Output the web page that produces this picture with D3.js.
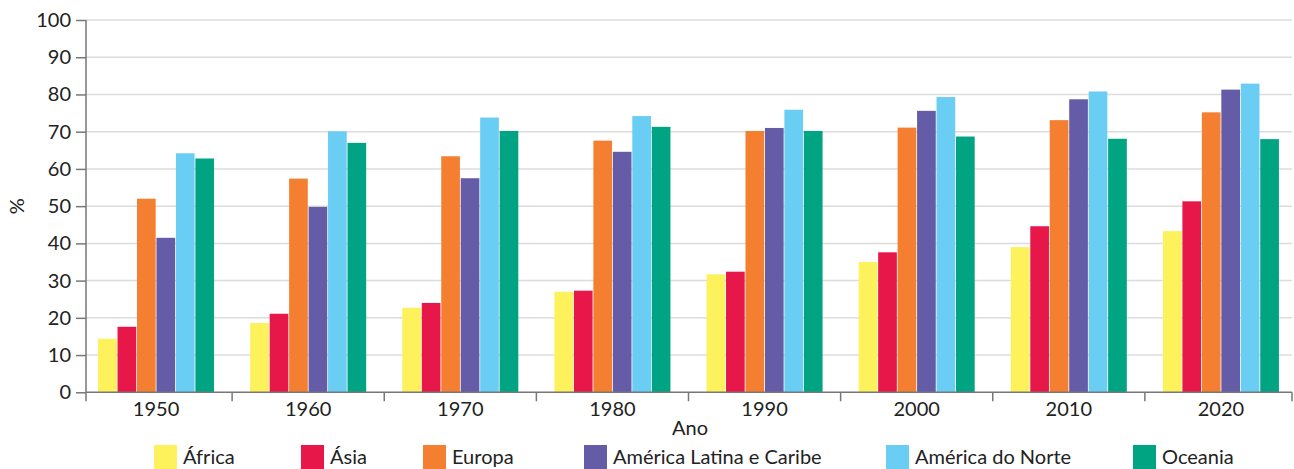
<!DOCTYPE html>
<html>
<head>
<meta charset="utf-8">
<script src="https://cdn.jsdelivr.net/npm/d3@7"></script>
<style>
  body { margin: 0; background: #fff; }
  svg text { font-family: Lato, "Open Sans", sans-serif; fill: #222; }
</style>
</head>
<body>
<div id="chart"></div>
<script>
// dados
var years = ["1950", "1960", "1970", "1980", "1990", "2000", "2010", "2020"];
var regions = ["África", "Ásia", "Europa", "América Latina e Caribe", "América do Norte", "Oceania"];
var colors = ["#fdf15c", "#e8174a", "#f47f30", "#655ca8", "#69cdf4", "#00a482"];
var africa   = [14.4, 18.6, 22.7, 27.0, 31.7, 35.0, 39.0, 43.3];
var asia     = [17.6, 21.1, 24.0, 27.3, 32.4, 37.6, 44.6, 51.3];
var europa   = [52.0, 57.4, 63.4, 67.6, 70.2, 71.1, 73.1, 75.2];
var latina   = [41.5, 49.8, 57.5, 64.6, 71.0, 75.6, 78.7, 81.3];
var norte    = [64.2, 70.1, 73.8, 74.2, 75.9, 79.3, 80.8, 82.9];
var oceania  = [62.8, 67.0, 70.2, 71.3, 70.2, 68.7, 68.1, 68.0];
var yTicks = [0, 10, 20, 30, 40, 50, 60, 70, 80, 90, 100];

var seriesValues = [africa, asia, europa, latina, norte, oceania];

var width = 1294, height = 469;
var axisLeftX = 86, axisRightX = 1292;

var svg = d3.select("#chart").append("svg")
    .attr("width", width)
    .attr("height", height);

var x0 = d3.scaleBand().domain(years).range([80, 1297]);
var x1 = d3.scaleBand().domain(regions).range([0, 116]).paddingInner(0.04);
var y = d3.scaleLinear().domain([0, 100]).range([392.3, 20]);

// grade
svg.append("g")
    .selectAll("line")
    .data(yTicks.filter(function(d){ return d > 0; }))
    .enter().append("line")
    .attr("x1", axisLeftX).attr("x2", axisRightX)
    .attr("y1", function(d){ return y(d); })
    .attr("y2", function(d){ return y(d); })
    .attr("stroke", "#dcdcdc")
    .attr("stroke-width", 1.5);

// barras
var groups = svg.append("g")
    .selectAll("g")
    .data(years)
    .enter().append("g")
    .attr("transform", function(d){
        return "translate(" + (x0(d) + (x0.bandwidth() - 116) / 2) + ",0)";
    });

groups.selectAll("rect")
    .data(function(d, i){
        return regions.map(function(r, j){ return {region: r, value: seriesValues[j][i], color: colors[j]}; });
    })
    .enter().append("rect")
    .attr("x", function(d){ return x1(d.region); })
    .attr("width", x1.bandwidth())
    .attr("y", function(d){ return y(d.value); })
    .attr("height", function(d){ return y(0) - y(d.value); })
    .attr("fill", function(d){ return d.color; });

// eixo y
var yAxis = d3.axisLeft(y).tickValues(yTicks).tickSize(10).tickPadding(5);
var gy = svg.append("g")
    .attr("transform", "translate(" + axisLeftX + ",0)")
    .call(yAxis);
gy.select(".domain").remove();
gy.selectAll(".tick line").attr("stroke", "#777").attr("stroke-width", 1.5);
gy.selectAll(".tick text").style("font-size", "20px").style("fill", "#222");
svg.append("line")
    .attr("x1", axisLeftX).attr("x2", axisLeftX)
    .attr("y1", y(100)).attr("y2", y(0) + 9)
    .attr("stroke", "#777").attr("stroke-width", 1.5);

// eixo x
var xAxis = d3.axisBottom(x0).tickSize(0).tickPadding(10);
var gx = svg.append("g")
    .attr("transform", "translate(0," + y(0) + ")")
    .call(xAxis);
gx.select(".domain").remove();
gx.selectAll(".tick text").style("font-size", "20px").style("fill", "#222");

svg.append("line")
    .attr("x1", axisLeftX).attr("x2", axisRightX)
    .attr("y1", y(0)).attr("y2", y(0))
    .attr("stroke", "#777").attr("stroke-width", 1.5);

var bounds = years.slice(1).map(function(d){ return x0(d); }).concat([axisRightX]);
svg.append("g").selectAll("line")
    .data(bounds)
    .enter().append("line")
    .attr("x1", function(d){ return d; }).attr("x2", function(d){ return d; })
    .attr("y1", y(0)).attr("y2", y(0) + 9)
    .attr("stroke", "#777").attr("stroke-width", 1.5);

// títulos
svg.append("text")
    .attr("x", 690).attr("y", 435)
    .attr("text-anchor", "middle")
    .style("font-size", "20px")
    .text("Ano");

svg.append("text")
    .attr("transform", "translate(24," + y(50) + ") rotate(-90)")
    .attr("text-anchor", "middle")
    .style("font-size", "20px")
    .text("%");

// legenda
var legendX = [154, 301, 423, 584, 886, 1133];
var legend = svg.append("g")
    .selectAll("g")
    .data(regions)
    .enter().append("g")
    .attr("transform", function(d, i){ return "translate(" + legendX[i] + ",445)"; });

legend.append("rect")
    .attr("width", 23).attr("height", 24)
    .attr("fill", function(d, i){ return colors[i]; });

legend.append("text")
    .attr("x", 29).attr("y", 19)
    .style("font-size", "20px")
    .text(function(d){ return d; });
</script>
</body>
</html>
